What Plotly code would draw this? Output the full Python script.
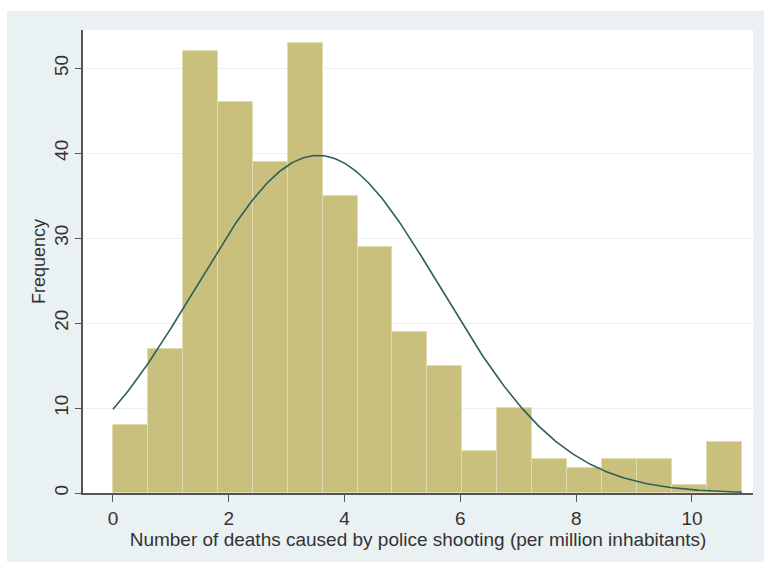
import numpy as np
import plotly.graph_objects as go

# Histogram data
bin_start = 0.0
bin_width = 0.6033
frequencies = [8, 17, 52, 46, 39, 53, 35, 29, 19, 15, 5, 10, 4, 3, 4, 4, 1, 6]

# Normal density overlay parameters (fitted to the same data)
n_obs = sum(frequencies)
fit_mean = 3.54
fit_sd = 2.12

x_ticks = [0, 2, 4, 6, 8, 10]
y_ticks = [0, 10, 20, 30, 40, 50]

x_title = "Number of deaths caused by police shooting (per million inhabitants)"
y_title = "Frequency"

centers = [bin_start + bin_width * (i + 0.5) for i in range(len(frequencies))]
x_end = bin_start + bin_width * len(frequencies)

xs = np.linspace(bin_start, x_end, 300)
ys = n_obs * bin_width / (fit_sd * np.sqrt(2 * np.pi)) * np.exp(-0.5 * ((xs - fit_mean) / fit_sd) ** 2)

fig = go.Figure()
fig.add_trace(go.Bar(
    x=centers, y=frequencies, width=bin_width,
    marker=dict(color="#C9C07E", line=dict(color="#E2DCB0", width=1.0)),
    showlegend=False, hoverinfo="x+y",
))
fig.add_trace(go.Scatter(
    x=xs, y=ys, mode="lines",
    line=dict(color="#2E5F5B", width=1.6),
    showlegend=False,
))

W, H = 764, 562
L, R, T, B = 83, 11, 30, 69
pw, ph = W - L - R, H - T - B

def px_x(p):
    return (p - L) / pw

def px_y(p):
    return (H - B - p) / ph

shapes = [
    # white strips outside the grey frame (top and left)
    dict(type="rect", xref="paper", yref="paper", x0=px_x(-2), x1=px_x(W + 2),
         y0=px_y(11), y1=px_y(-2), fillcolor="white", line=dict(width=0), layer="above"),
    dict(type="rect", xref="paper", yref="paper", x0=px_x(-2), x1=px_x(7),
         y0=px_y(H + 2), y1=px_y(-2), fillcolor="white", line=dict(width=0), layer="above"),
]

fig.update_layout(
    width=W, height=H,
    margin=dict(l=L, r=R, t=T, b=B, pad=0),
    paper_bgcolor="#EAF1F3",
    plot_bgcolor="white",
    bargap=0,
    font=dict(family="Liberation Sans, Arial, sans-serif", size=19, color="#333333"),
    shapes=shapes,
    xaxis=dict(
        range=[-0.518, 11.054],
        tickvals=x_ticks, ticktext=[str(v) for v in x_ticks],
        ticks="outside", ticklen=7, tickcolor="#555555", tickwidth=1.2,
        showgrid=False, zeroline=False,
        showline=True, linecolor="#555555", linewidth=1.5,
        title=dict(text=x_title, standoff=0, font=dict(size=19)),
        tickfont=dict(size=19),
    ),
    yaxis=dict(
        range=[0, 54.5],
        tickvals=y_ticks, ticktext=[str(v) for v in y_ticks],
        tickangle=-90,
        ticks="outside", ticklen=6, tickcolor="#555555", tickwidth=1.2,
        showgrid=True, gridcolor="#ECF0F1", gridwidth=1.2,
        zeroline=False,
        showline=True, linecolor="#555555", linewidth=1.5,
        title=dict(text=y_title, standoff=0, font=dict(size=18)),
        tickfont=dict(size=19),
    ),
)

fig.write_html(
    "out.html",
    config={"displayModeBar": False},
    post_script="document.body.style.margin='0';document.body.style.padding='0';",
)
